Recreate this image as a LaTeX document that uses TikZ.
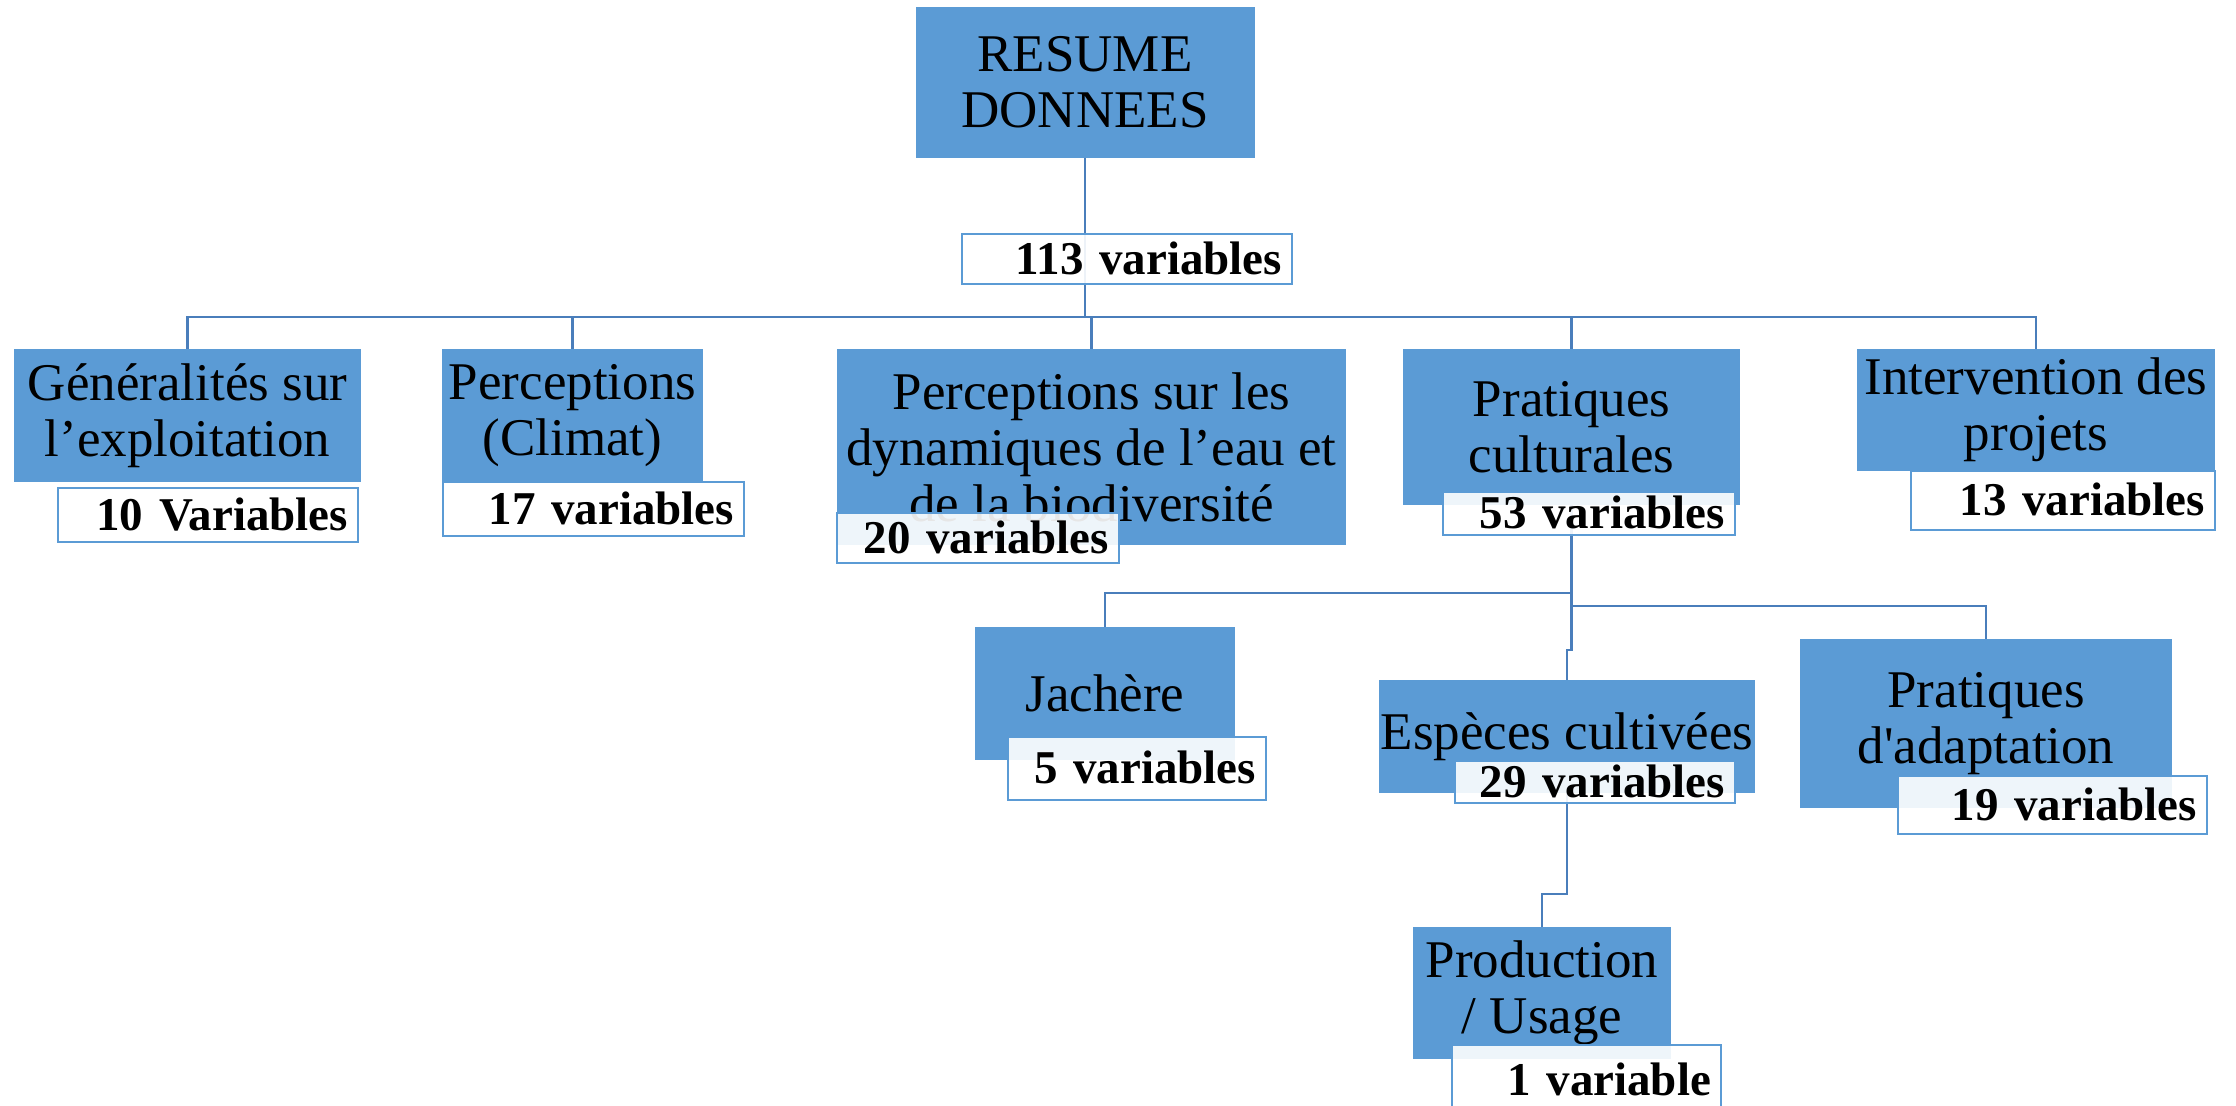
\documentclass[tikz,border=0pt]{standalone}
\usepackage{fontspec}
\setmainfont{Liberation Serif}
\definecolor{boxblue}{HTML}{5B9BD5}
\definecolor{linkblue}{HTML}{4A7EBB}

\begin{document}
\begin{tikzpicture}[x=0.5pt,y=-0.5pt]
    \tikzstyle{mainbox}=[fill=boxblue,draw=none,inner sep=0pt,align=center,font=\fontsize{26.5}{28}\selectfont];
    \tikzstyle{countbox}=[draw=boxblue,line width=1.2pt,fill=white,fill opacity=0.9,text opacity=1,inner xsep=5pt,inner ysep=0pt,align=right,text height=15pt,text depth=0pt,font=\fontsize{23.5}{25}\bfseries\selectfont];
    \tikzstyle{link}=[draw=linkblue,line width=1.3pt];
    \useasboundingbox (0,0) rectangle (2236,1105);

    % themes
    \node at (1085, 82.5) (top) [mainbox,minimum width=169.5pt,minimum height=75.5pt] {RESUME\\DONNEES};
    \node at (187.5, 415.5) (gen) [mainbox,minimum width=173.5pt,minimum height=66.5pt] {Généralités sur\\l’exploitation};
    \node at (572.5, 415.5) (clim) [mainbox,minimum width=130.5pt,minimum height=66.5pt] {Perceptions\\(Climat)};
    \node at (1091.5, 447) (eau) [mainbox,minimum width=254.5pt,minimum height=98pt] {Perceptions sur les\\dynamiques de l’eau et\\de la biodiversité};
    \node at (1571.5, 427) (cult) [mainbox,minimum width=168.5pt,minimum height=78pt] {Pratiques\\culturales};
    \node at (2036, 410) (proj) [mainbox,minimum width=179pt,minimum height=61pt] {Intervention des\\projets};
    \node at (1105, 693.5) (jach) [mainbox,minimum width=130pt,minimum height=66.5pt] {Jachère};
    \node at (1567, 736.5) (esp) [mainbox,minimum width=188pt,minimum height=56.5pt] {Espèces cultivées};
    \node at (1986, 723.5) (adap) [mainbox,minimum width=186pt,minimum height=84.5pt] {Pratiques\\d\textquotesingle adaptation};
    \node at (1542, 993) (prod) [mainbox,minimum width=129pt,minimum height=66pt] {Production\\/ Usage};

    % tree lines
    \coordinate (bus) at (1085, 317);
    \coordinate (jbus) at (1571.5, 593);
    \coordinate (abus) at (1571.5, 606);
    \coordinate (ebus) at (1569, 650);
    \coordinate (pbus) at (1555, 894);
    \draw[link] (top.south) -- (bus);
    \draw[link] (bus) -| (gen.north);
    \draw[link] (bus) -| (clim.north);
    \draw[link] (bus) -| (eau.north);
    \draw[link] (bus) -| (cult.north);
    \draw[link] (bus) -| (proj.north);
    \draw[link] (cult.south) |- (ebus) -| (esp.north);
    \draw[link] (jbus) -| (jach.north);
    \draw[link] (abus) -| (adap.north);
    \draw[link] (esp.south) |- (pbus) -| (prod.north);

    % counts
    \node at (1127, 259) (ntot) [countbox,text width=155pt,minimum height=25pt] {113 variables};
    \node at (208, 515) (ngen) [countbox,text width=140pt,minimum height=27pt] {10 Variables};
    \node at (593.5, 509) (nclim) [countbox,text width=140.5pt,minimum height=27pt] {17 variables};
    \node at (978, 538) (neau) [countbox,text width=131pt,minimum height=25pt] {20 variables};
    \node at (1589, 513.5) (ncult) [countbox,text width=136pt,minimum height=21.5pt] {53 variables};
    \node at (2063, 500.5) (nproj) [countbox,text width=142pt,minimum height=29.5pt] {13 variables};
    \node at (1137, 768.5) (njach) [countbox,text width=119pt,minimum height=31.5pt] {5 variables};
    \node at (1595, 782) (nesp) [countbox,text width=130pt,minimum height=21pt] {29 variables};
    \node at (2052.5, 805) (nadap) [countbox,text width=144.5pt,minimum height=29pt] {19 variables};
    \node at (1586.5, 1080) (nprod) [countbox,text width=124.5pt,minimum height=35pt] {1 variable};
\end{tikzpicture}
\end{document}
